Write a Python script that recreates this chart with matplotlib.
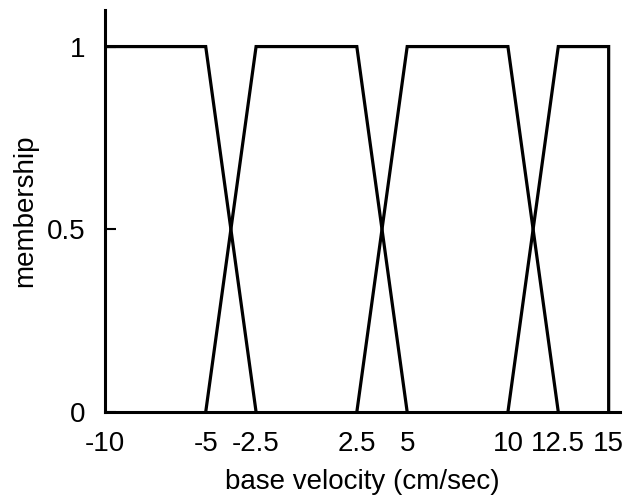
import matplotlib
matplotlib.use("Agg")
import matplotlib.pyplot as plt

plt.rcParams['font.family'] = ['Liberation Sans', 'DejaVu Sans']

# membership functions (trapezoids): x breakpoints and membership values
x_sets = [
    [-10, -10, -5, -2.5],
    [-5, -2.5, 2.5, 5],
    [2.5, 5, 10, 12.5],
    [10, 12.5, 15, 15],
]
y_sets = [
    [0, 1, 1, 0],
    [0, 1, 1, 0],
    [0, 1, 1, 0],
    [0, 1, 1, 0],
]
xticks = [-10, -5, -2.5, 2.5, 5, 10, 12.5, 15]
xtick_labels = ['-10', '-5', '-2.5', '2.5', '5', '10', '12.5', '15']
yticks = [0, 0.5, 1]
ytick_labels = ['0', '0.5', '1']

fig = plt.figure(figsize=(6.26, 5.01), dpi=100)
ax = fig.add_axes([0.1677, 0.1776, 0.8223, 0.8024])

for xs, ys in zip(x_sets, y_sets):
    ax.plot(xs, ys, color='black', lw=2.3, solid_joinstyle='miter')

ax.set_xlim(-10, 15.55)
ax.set_ylim(0, 1.1)
ax.spines['top'].set_visible(False)
ax.spines['right'].set_visible(False)
ax.spines['left'].set_linewidth(2.2)
ax.spines['bottom'].set_linewidth(2.2)

ax.set_xticks(xticks)
ax.set_xticklabels(xtick_labels)
ax.set_yticks(yticks)
ax.set_yticklabels(ytick_labels)
ax.tick_params(axis='both', direction='in', length=8, width=1.5, labelsize=20, pad=14)
ax.tick_params(axis='x', length=0, pad=14)

ax.set_xlabel('base velocity (cm/sec)', fontsize=20, labelpad=8)
ax.set_ylabel('membership', fontsize=20, labelpad=6)

fig.savefig('out.png', dpi=100)
